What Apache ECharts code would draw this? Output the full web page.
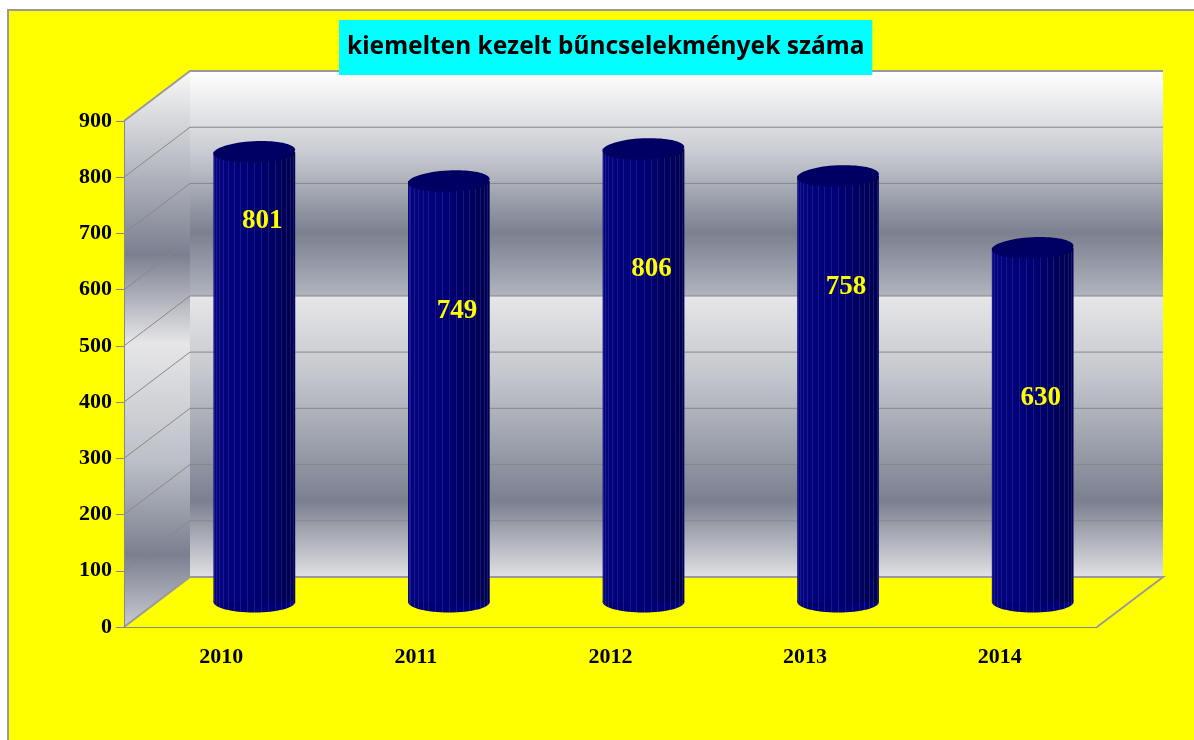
<!DOCTYPE html>
<html>
<head>
<meta charset="utf-8">
<title>kiemelten kezelt bűncselekmények száma</title>
<script src="https://cdn.jsdelivr.net/npm/echarts@6/dist/echarts.min.js"></script>
<style>
  html, body { margin: 0; padding: 0; background: #fff; }
  #chart { width: 1194px; height: 740px; }
</style>
</head>
<body>
<div id="chart"></div>
<script>
// adatok
const titleText = 'kiemelten kezelt bűncselekmények száma';
const years = ['2010', '2011', '2012', '2013', '2014'];
const counts = [801, 749, 806, 758, 630];
const yTicks = [0, 100, 200, 300, 400, 500, 600, 700, 800, 900];

// 3D doboz mélysége (px)
const DX = 66, DY = -50;
// a feliratok helye a henger tetejétől lefelé (px)
const labelDrop = [69, 130, 120, 111, 150];

const backWallFill = {
    type: 'linear', x: 0, y: 0, x2: 0, y2: 1,
    colorStops: [
        { offset: 0, color: '#ffffff' },
        { offset: 0.16, color: '#c9ccd2' },
        { offset: 0.32, color: '#7b8090' },
        { offset: 0.443, color: '#b0b4be' },
        { offset: 0.447, color: '#e6e6e8' },
        { offset: 0.6, color: '#c4c7cd' },
        { offset: 0.85, color: '#7b8090' },
        { offset: 1, color: '#e0e1e4' }
    ]
};
const leftWallFill = {
    type: 'linear', x: 0, y: 0, x2: 0, y2: 1,
    colorStops: [
        { offset: 0, color: '#f8f8f8' },
        { offset: 0.33, color: '#7b8090' },
        { offset: 0.49, color: '#e6e6e8' },
        { offset: 0.7, color: '#bcc0c7' },
        { offset: 0.87, color: '#7b8090' },
        { offset: 1, color: '#c8cad0' }
    ]
};
const bodyFill = {
    type: 'linear', x: 0, y: 0, x2: 1, y2: 0,
    colorStops: [
        { offset: 0, color: '#04047f' },
        { offset: 0.45, color: '#000076' },
        { offset: 1, color: '#00004e' }
    ]
};

var myChart = echarts.init(document.getElementById('chart'));

// hátsó fal, oldalfal, padló vonalai
function renderWalls(params, api) {
    const cs = params.coordSys;
    const x0 = cs.x, x1 = cs.x + cs.width;
    const yTop = api.coord([0, yTicks[yTicks.length - 1]])[1];
    const yBot = api.coord([0, 0])[1];
    const children = [
        {
            type: 'rect',
            shape: { x: x0 + DX, y: yTop + DY, width: x1 - x0, height: yBot - yTop },
            style: { fill: backWallFill }
        },
        {
            type: 'polygon',
            shape: { points: [[x0, yTop], [x0 + DX, yTop + DY], [x0 + DX, yBot + DY], [x0, yBot]] },
            style: { fill: leftWallFill }
        }
    ];
    yTicks.forEach(v => {
        const y = api.coord([0, v])[1];
        const pts = [[x0, y], [x0 + DX, y + DY], [x1 + DX, y + DY]];
        if (v === 0) pts.push([x1, y]);
        const edge = v === 0 || v === yTicks[yTicks.length - 1];
        children.push({
            type: 'polyline',
            shape: { points: pts },
            style: { fill: 'none', stroke: edge ? '#9a9a9a' : '#888', lineWidth: edge ? 2 : 1 }
        });
    });
    return { type: 'group', children: children };
}

// henger
function renderCylinder(params, api) {
    const i = api.value(0), v = api.value(1);
    const top = api.coord([i, v]), base = api.coord([i, 0]);
    const rx = api.size([1, 0])[0] * 0.21, ry = 10.5;
    const cx = top[0] + DX / 2, ty = top[1] + DY / 2, by = base[1] + DY / 2;
    const children = [
        { type: 'ellipse', shape: { cx: cx, cy: by, rx: rx, ry: ry }, style: { fill: '#000074' } },
        { type: 'rect', shape: { x: cx - rx, y: ty, width: 2 * rx, height: by - ty }, style: { fill: bodyFill } }
    ];
    for (let k = 1; k < 18; k++) {
        const a = Math.PI * k / 18;
        const fx = Math.round(cx - rx * Math.cos(a)) + 0.5, fy = ry * Math.sin(a);
        children.push({
            type: 'line',
            shape: { x1: fx, y1: ty + fy, x2: fx, y2: by + fy },
            style: { stroke: 'rgba(110,110,200,0.22)', lineWidth: 1 }
        });
    }
    children.push({
        type: 'ellipse',
        shape: { cx: cx, cy: ty, rx: rx, ry: ry },
        rotation: 0.05, originX: cx, originY: ty,
        style: { fill: '#000062' }
    });
    children.push({
        type: 'text',
        x: cx + 8,
        y: ty + labelDrop[params.dataIndex],
        style: {
            text: String(v),
            fill: '#ffff00',
            font: 'bold 27px "Liberation Serif", serif',
            align: 'center',
            verticalAlign: 'middle'
        }
    });
    return { type: 'group', children: children };
}

const option = {
    backgroundColor: '#ffffff',
    animation: false,
    title: {
        text: titleText,
        left: 339,
        top: 20,
        backgroundColor: '#00ffff',
        padding: [12, 8, 13, 8],
        textStyle: { fontFamily: 'Noto Sans', fontWeight: 'bold', fontSize: 24.5, lineHeight: 30, color: '#000' }
    },
    graphic: [{
        type: 'rect',
        z: -100,
        silent: true,
        shape: { x: 8, y: 10, width: 1260, height: 800 },
        style: { fill: '#ffff00', stroke: '#9a9a9a', lineWidth: 2 }
    }],
    grid: { left: 124, right: 97, top: 121, bottom: 113 },
    xAxis: {
        type: 'category',
        data: years,
        z: 5,
        axisLine: { lineStyle: { color: '#888', width: 1 } },
        axisTick: { length: 8, lineStyle: { color: '#888' } },
        axisLabel: { margin: 19, color: '#000', fontFamily: 'Liberation Serif', fontWeight: 'bold', fontSize: 22 }
    },
    yAxis: {
        type: 'value',
        min: 0,
        max: 900,
        interval: 100,
        z: 5,
        axisLine: { show: true, lineStyle: { color: '#888', width: 1 } },
        axisTick: { show: true, length: 8, lineStyle: { color: '#888' } },
        axisLabel: { margin: 12, color: '#000', fontFamily: 'Liberation Serif', fontWeight: 'bold', fontSize: 22 },
        splitLine: { show: false }
    },
    series: [
        {
            type: 'custom',
            name: 'walls',
            z: 1,
            clip: false,
            silent: true,
            renderItem: renderWalls,
            data: [[0, 0]]
        },
        {
            type: 'custom',
            name: 'bűncselekmények',
            z: 3,
            clip: false,
            renderItem: renderCylinder,
            encode: { x: 0, y: 1 },
            data: counts.map((c, i) => [i, c])
        }
    ]
};

myChart.setOption(option);
</script>
</body>
</html>
